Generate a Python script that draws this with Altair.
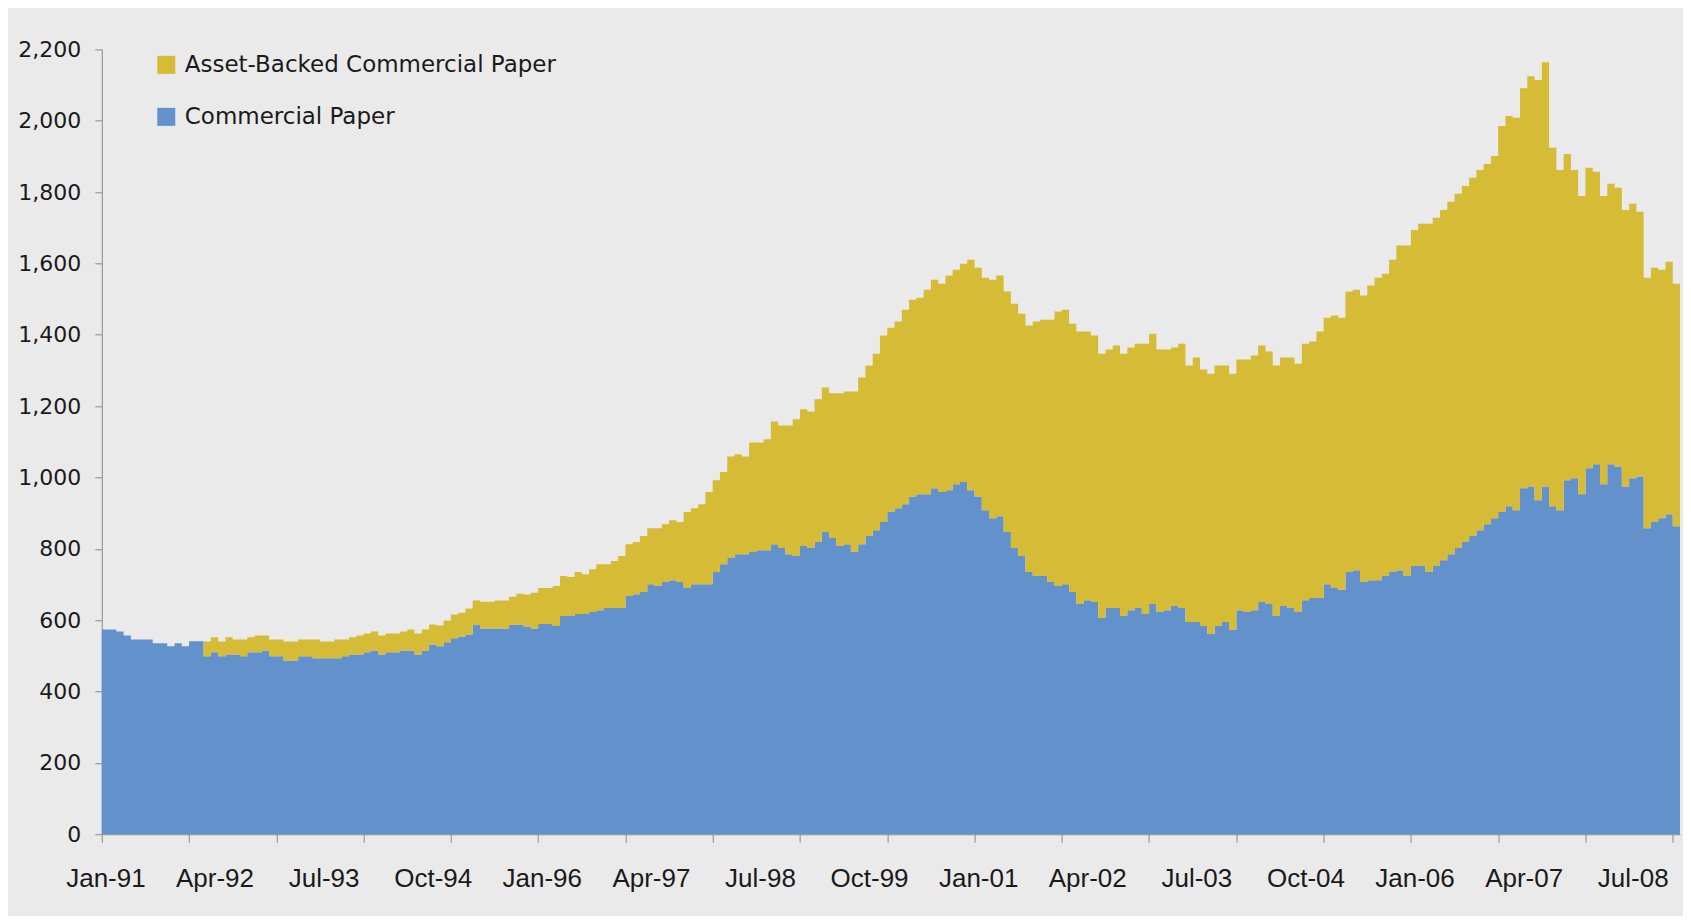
import altair as alt
import pandas as pd

# Monthly, Jan-1991 .. Jan-2009 (billions of dollars)
tick_labels = ["Jan-91", "Apr-92", "Jul-93", "Oct-94", "Jan-96", "Apr-97", "Jul-98",
               "Oct-99", "Jan-01", "Apr-02", "Jul-03", "Oct-04", "Jan-06", "Apr-07", "Jul-08"]

series_names = ["Asset-Backed Commercial Paper", "Commercial Paper"]
series_colors = ["#D6BB37", "#6391CB"]

commercial_paper = [
    574, 574, 568, 557, 546, 546, 546, 535, 535, 527, 535, 527, 541, 541,
    499, 510, 499, 504, 504, 499, 510, 510, 515, 499,
    499, 487, 487, 499, 499, 493, 493, 493, 493, 499,
    504, 504, 510, 515, 504, 510, 510, 515, 515, 504,
    515, 532, 527, 538, 549, 554, 560, 588, 577, 577,
    577, 577, 588, 588, 582, 577,
    589, 589, 584, 612, 612, 617, 617, 623, 628, 634,
    634, 634, 668, 673, 679, 701, 696, 707, 712, 707,
    690, 701, 701, 701, 735, 757, 774, 785, 785, 791,
    796, 796, 813, 802, 785, 780, 808, 802, 819, 847,
    830, 808, 813, 791, 813, 836,
    852, 875, 903, 914, 925, 947, 953, 953, 970, 959,
    964, 981, 987, 964, 947, 908, 886, 891, 847, 802,
    780, 735, 724, 724, 707, 696, 701, 679, 645, 656,
    651, 606, 634, 634, 612, 628, 634, 617, 645, 623,
    628, 640, 634, 595, 595, 584, 561, 584, 595, 573,
    628, 623, 628, 651, 645, 612, 640, 634, 623, 656,
    662, 662, 701, 690, 685, 735, 740, 707, 712, 712,
    724, 735, 740, 724, 752, 752, 735, 752, 768, 785,
    802, 819, 836, 852, 869, 886, 903, 919, 908, 970,
    975, 936, 975, 919, 908, 992, 998, 953, 1026, 1037,
    981, 1037, 1031, 975, 998, 1003, 858, 875, 886, 897,
    863,
]

# Commercial paper + asset-backed commercial paper (top of the yellow band)
total_outstanding = [
    574, 574, 568, 557, 546, 546, 546, 535, 535, 527, 535, 527, 541, 541,
    540, 552, 540, 552, 546, 546, 552, 557, 557, 546,
    546, 540, 540, 546, 546, 546, 540, 540, 546, 546,
    552, 557, 563, 568, 557, 563, 563, 568, 574, 563,
    574, 588, 585, 599, 616, 621, 633, 655, 652, 652,
    655, 655, 666, 674, 672, 677,
    690, 690, 696, 724, 721, 735, 729, 743, 757, 757,
    766, 780, 813, 819, 836, 858, 858, 869, 880, 875,
    903, 914, 925, 959, 992, 1015, 1059, 1065, 1059, 1098,
    1098, 1107, 1157, 1146, 1146, 1163, 1191, 1185, 1219, 1252,
    1236, 1236, 1241, 1241, 1280, 1314,
    1347, 1398, 1420, 1437, 1470, 1498, 1504, 1526, 1554, 1543,
    1566, 1582, 1599, 1610, 1588, 1560, 1554, 1566, 1521, 1487,
    1459, 1426, 1437, 1442, 1442, 1465, 1470, 1431, 1409, 1409,
    1398, 1347, 1359, 1370, 1347, 1364, 1375, 1375, 1403, 1359,
    1359, 1364, 1375, 1314, 1336, 1303, 1291, 1314, 1314, 1291,
    1331, 1331, 1342, 1370, 1353, 1314, 1336, 1336, 1319, 1375,
    1381, 1409, 1448, 1454, 1448, 1521, 1526, 1510, 1538, 1560,
    1571, 1610, 1650, 1650, 1694, 1711, 1711, 1728, 1750, 1773,
    1795, 1817, 1840, 1862, 1879, 1901, 1985, 2013, 2008, 2091,
    2125, 2114, 2164, 1924, 1862, 1907, 1862, 1789, 1868, 1857,
    1789, 1823, 1812, 1750, 1767, 1745, 1560, 1588, 1582, 1605,
    1543,
]

n = len(commercial_paper)
rows = []
for i in range(n + 1):
    j = min(i, n - 1)  # closing point so the last month gets its full width
    rows.append({"m": i, "series": series_names[1], "lo": 0, "hi": commercial_paper[j]})
    rows.append({"m": i, "series": series_names[0], "lo": commercial_paper[j], "hi": total_outstanding[j]})
df = pd.DataFrame(rows)

AXIS_GREY = "#8A8A8A"
xscale = alt.Scale(domain=[0, n], nice=False, zero=False)
yscale = alt.Scale(domain=[0, 2200], nice=False)

areas = alt.Chart(df).mark_area(interpolate="step-after", opacity=1).encode(
    x=alt.X("m:Q", scale=xscale,
            axis=alt.Axis(values=list(range(0, n + 1, 12)), labels=False, ticks=True,
                          tickSize=8, tickColor=AXIS_GREY, domainColor=AXIS_GREY,
                          grid=False, title=None, orient="bottom")),
    y=alt.Y("hi:Q", scale=yscale,
            axis=alt.Axis(values=list(range(0, 2201, 200)), format=",d", grid=False,
                          title=None, tickSize=7, tickColor=AXIS_GREY, domainColor=AXIS_GREY,
                          labelFont="DejaVu Sans", labelFontSize=22, labelColor="#1A1A1A",
                          labelPadding=14)),
    y2="lo:Q",
    color=alt.Color("series:N",
                    scale=alt.Scale(domain=series_names, range=series_colors),
                    legend=alt.Legend(orient="none", legendX=53, legendY=4, title=None,
                                      symbolType="square", symbolSize=324,
                                      symbolStrokeWidth=0, symbolOpacity=1,
                                      labelFont="DejaVu Sans", labelFontSize=23,
                                      labelColor="#1A1A1A", labelLimit=0, rowPadding=28,
                                      labelOffset=7, padding=0)),
)

label_expr = "[" + ",".join("'%s'" % t for t in tick_labels) + "][floor(datum.value / 15)]"

labels_layer = alt.Chart(df).mark_point(opacity=0).encode(
    x=alt.X("m:Q", scale=xscale,
            axis=alt.Axis(values=[k * 15 + 0.5 for k in range(len(tick_labels))],
                          labelExpr=label_expr, ticks=False, domain=False, grid=False,
                          title=None, orient="bottom", labelPadding=31,
                          labelFont="Liberation Sans", labelFontSize=26,
                          labelColor="#1A1A1A", labelFlush=False, labelOverlap=False,
                          labelBound=False)),
)

chart = alt.layer(areas, labels_layer).resolve_axis(x="independent").properties(
    width=1578.5,
    height=785,
    background="#EAEAEA",
    autosize=alt.AutoSizeParams(type="none"),
    padding={"left": 93.8, "top": 41.3, "right": 3, "bottom": 81.6},
).configure_view(stroke=None)

chart.save("out.html", embed_options={"renderer": "svg", "actions": False})
